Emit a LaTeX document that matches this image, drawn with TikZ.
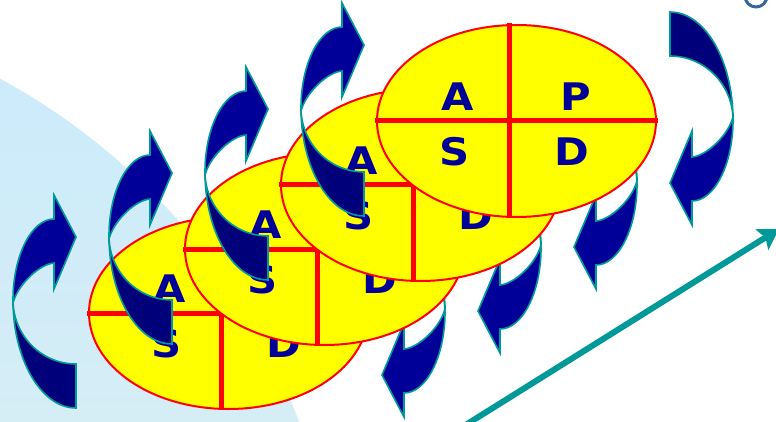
\documentclass[tikz,border=0pt]{standalone}
\usepackage{fontspec}
\setmainfont{DejaVu Sans}
\usetikzlibrary{arrows.meta}
\definecolor{navyA}{RGB}{0,0,122}
\definecolor{blueA}{RGB}{0,0,153}
\definecolor{tealA}{RGB}{0,153,153}
\definecolor{bgblueT}{RGB}{204,235,252}
\definecolor{bgblueB}{RGB}{213,237,245}
\definecolor{ringblue}{RGB}{51,102,153}
\definecolor{letterblue}{RGB}{0,0,153}
\definecolor{discyellow}{RGB}{255,255,0}
\newcommand{\pdcaarrow}{%
  \path[arrowpart, fill=navyA] (76,364) -- (76,408) .. controls (41.2,408) and (13,359.6) .. (13,300) .. controls (13,335.3) and (41.2,364) .. (76,364) -- cycle;
  \path[arrowpart, fill=blueA] (13,303) -- (13,300) .. controls (13,255.3) and (31.8,219) .. (54,219) -- (54,195) -- (76,237) -- (54,289) -- (54,263) .. controls (40,264) and (18,284) .. (13,303) -- cycle;
}
\begin{document}
\begin{tikzpicture}[x=1pt,y=-1pt,
  arrowpart/.style={draw=tealA, line width=1.6pt, line join=miter},
  disc/.style={fill=discyellow, draw=red, line width=2pt},
  crossline/.style={draw=red, line width=5pt},
  letter/.style={text=letterblue, font=\fontsize{38}{40}\selectfont\bfseries, inner sep=0pt, xscale=1.1},
  trend/.style={draw=tealA, line width=6pt, -{Stealth[length=20pt, width=24pt, inset=4pt]}},
]
\useasboundingbox (0,0) rectangle (776,422);
\clip (0,0) rectangle (776,422);
\fill[white] (0,0) rectangle (776,422);
% light blue background disc
\begin{scope}
  \clip (-308,649) circle[radius=648pt];
  \shade[top color=bgblueT, bottom color=bgblueB] (0,60) rectangle (320,422);
\end{scope}
% right-hand arrows (behind the discs)
\begin{scope}[rotate around={180:(373,210)}]
  \foreach \j in {0,...,3} {
    \begin{scope}[shift={(96*\j,-64*\j)}]
      \pdcaarrow
    \end{scope}
  }
\end{scope}
% trend arrow
\coordinate (tstart) at (440,441);
\coordinate (tend) at (779,229);
\draw[trend] (tstart) -- (tend);
% PDCA discs
\foreach \j in {3,2,1,0} {
  \begin{scope}[shift={(-96*\j,64*\j)}]
    \path[disc] (516.5,121) ellipse [x radius=139.5pt, y radius=96pt];
    \draw[crossline] (375,121) -- (658,121);
    \draw[crossline] (509,23) -- (509,217);
    \node[letter] (A\j) at (458,97) {A};
    \node[letter] (S\j) at (455,152) {S};
    \node[letter] (D\j) at (572,152) {D};
  \end{scope}
}
\node[letter] (P0) at (576,97) {P};
% left-hand arrows (in front)
\foreach \j in {0,...,3} {
  \begin{scope}[shift={(96*\j,-64*\j)}]
    \pdcaarrow
  \end{scope}
}
% ring at top right
\draw[ringblue, line width=3pt] (756,-4) circle[radius=11pt];
\end{tikzpicture}
\end{document}
